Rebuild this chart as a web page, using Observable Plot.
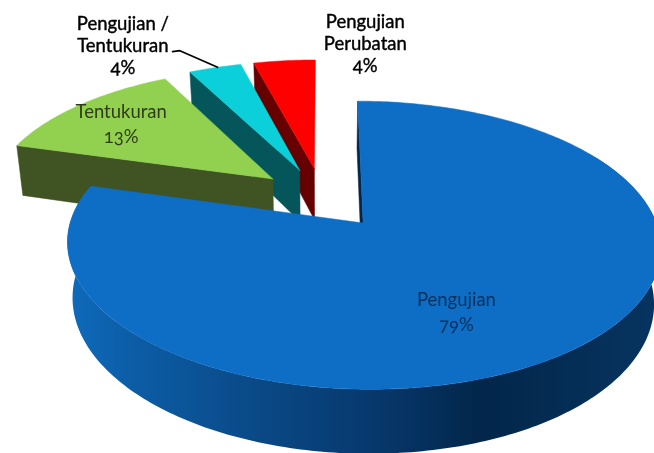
<!DOCTYPE html>
<html>
<head>
<meta charset="utf-8">
<script src="https://cdn.jsdelivr.net/npm/d3@7"></script>
<script src="https://cdn.jsdelivr.net/npm/@observablehq/plot@0.6"></script>
<style>
html,body{margin:0;padding:0;background:#fff;overflow:hidden}
svg{display:block;filter:blur(0.5px)}
</style>
</head>
<body>
<div id="chart"></div>
<script>
// Data
const categories = ["Pengujian", "Tentukuran", "Pengujian /\nTentukuran", "Pengujian\nPerubatan"];
const shares = [79.4, 13, 3.5, 4.1];
const percentLabels = ["79%", "13%", "4%", "4%"];

// Styles
const topColors = ["#0E6EC5", "#92D050", "#0BD0D9", "#FF0000"];
const wallColors = ["#03264A", "#3F5422", "#05565A", "#660000"];
const frontStops = [[70,"#0F6ABB"],[125,"#0C5EA8"],[250,"#0A4A88"],[375,"#07386C"],[480,"#03264A"],[654,"#063460"]];

// 3D pie model
const W = 654, H = 453;
const view = {cx:322, cy:197.4, rx:285, ry:133, k:0.15, depth:53, shrink:0.98, explode:0.23};
// label anchors in the pie plane (u = right, v = back)
const labelAnchors = [[0.417,-0.75],[-0.772,0.618],[-0.847,1.393],[0.182,1.417]];
const leaderStart = [-0.63,1.317];

const toTop = ([u,v]) => {
  const s = 1/(1+view.k*v);
  return [view.cx + view.rx*u*s, view.cy - view.ry*v*s];
};
const toBottom = ([u,v]) => {
  const s = 1/(1+view.k*v);
  return [view.cx + view.rx*u*s*view.shrink, view.cy - view.ry*v*s + view.depth*s];
};

const total = d3.sum(shares);
let running = 0;
const slices = shares.map((value,i) => {
  const a0 = running/total*2*Math.PI;
  running += value;
  const a1 = running/total*2*Math.PI;
  const mid = (a0+a1)/2;
  return {i, a0, a1, apex:[view.explode*Math.sin(mid), view.explode*Math.cos(mid)]};
});
const rim = (s,a) => [s.apex[0]+Math.sin(a), s.apex[1]+Math.cos(a)];
const arcPts = (s,a0,a1,n) => d3.range(n+1).map(j => rim(s,a0+(a1-a0)*j/n));

let pid = 0;
const polyRows = (pts,color) => {
  const id = pid++;
  return [...pts, pts[0]].map(p => ({x:p[0],y:p[1],id,color}));
};
const backRows = [], frontRows = [];

// Back to front: red, cyan, green, then blue
[3,2,1,0].forEach(i => {
  const s = slices[i];
  const e = rim(s,s.a0);
  backRows.push(...polyRows([toTop(s.apex),toTop(e),toBottom(e),toBottom(s.apex)], wallColors[i]));
  const arc = arcPts(s,s.a0,s.a1,Math.ceil((s.a1-s.a0)*60));
  const target = i === 0 ? frontRows : backRows;
  target.push(...polyRows([toTop(s.apex),...arc.map(toTop)], topColors[i]));
});

// Curved outer wall of the big slice
const big = slices[0];
const wallArc = arcPts(big,Math.PI/3,big.a1,240);
const wallRows = polyRows([...wallArc.map(toTop),...wallArc.slice().reverse().map(toBottom)],"url(#wallGradient)");

const wallGradient = () => {
  const ns = "http://www.w3.org/2000/svg";
  const g = document.createElementNS(ns,"linearGradient");
  g.setAttribute("id","wallGradient");
  g.setAttribute("gradientUnits","userSpaceOnUse");
  g.setAttribute("x1",0); g.setAttribute("x2",W); g.setAttribute("y1",0); g.setAttribute("y2",0);
  frontStops.forEach(([x,c]) => {
    const st = document.createElementNS(ns,"stop");
    st.setAttribute("offset",x/W);
    st.setAttribute("stop-color",c);
    g.append(st);
  });
  const defs = document.createElementNS(ns,"defs");
  defs.append(g);
  return defs;
};

const labels = slices.map((s,i) => {
  const p = toTop(labelAnchors[i]);
  return {x:p[0], y:p[1], text:categories[i]+"\n"+percentLabels[i], i};
});
const cy = slices[2];
const leader = [leaderStart, [leaderStart[0]+0.03,leaderStart[1]+0.01], rim(cy,cy.a0+(cy.a1-cy.a0)*0.55)].map(toTop).map(p=>({x:p[0],y:p[1]}));

const inner = labels.filter(d=>d.i<2), outer = labels.filter(d=>d.i>=2);
const innerColors = ["#06305C","#2E3D16"];
const font = "Lato, 'Noto Sans', sans-serif";

const plot = Plot.plot({
  width:W, height:H, margin:0,
  x:{domain:[0,W],range:[0,W],axis:null},
  y:{domain:[0,H],range:[0,H],axis:null},
  color:{type:"identity"},
  marks:[
    wallGradient,
    Plot.line(backRows,{x:"x",y:"y",z:"id",fill:"color",stroke:"color",strokeWidth:0.5,curve:"linear"}),
    Plot.line(wallRows,{x:"x",y:"y",z:"id",fill:"url(#wallGradient)",stroke:"none",curve:"linear"}),
    Plot.line(frontRows,{x:"x",y:"y",z:"id",fill:"color",stroke:"color",strokeWidth:0.5,curve:"linear"}),
    Plot.line(leader,{x:"x",y:"y",stroke:"#000",strokeWidth:1.7,curve:"linear"}),
    Plot.text(inner,{x:"x",y:"y",text:"text",fill:d=>innerColors[d.i],fontSize:18.5,lineHeight:1.35,fontFamily:font,lineAnchor:"middle"}),
    Plot.text(outer,{x:"x",y:"y",text:"text",fill:"#000",stroke:"#000",strokeWidth:0.4,fontSize:18.5,lineHeight:1.19,fontFamily:font,lineAnchor:"middle"})
  ]
});
plot.style.fontVariantNumeric = "oldstyle-nums";
document.getElementById("chart").append(plot);
</script>
</body>
</html>
